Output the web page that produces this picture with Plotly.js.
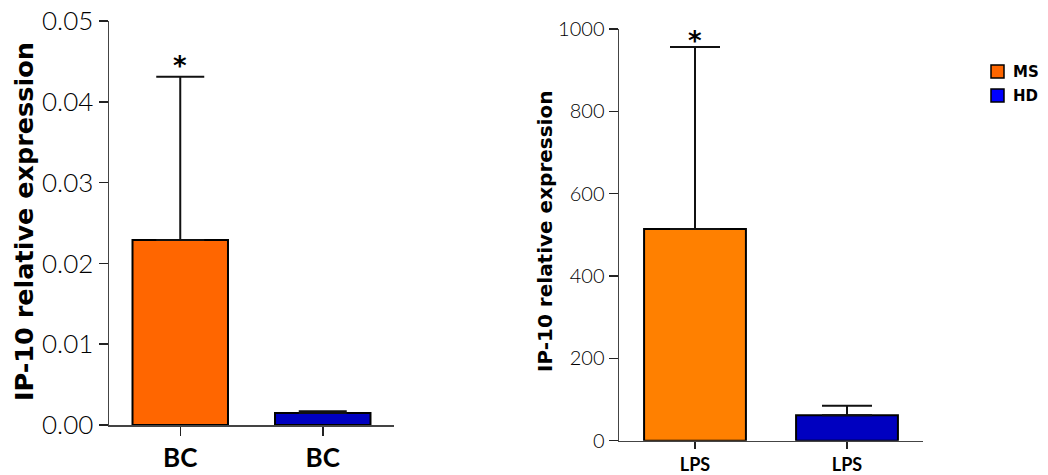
<!DOCTYPE html>
<html>
<head>
<meta charset="utf-8">
<script src="https://cdn.plot.ly/plotly-3.0.1.min.js"></script>
<style>html,body{margin:0;padding:0;background:#fff}#chart{width:1048px;height:475px}</style>
</head>
<body>
<div id="chart"></div>
<script>
// ---- data ----
const seriesNames = ['MS', 'HD'];
const leftCategories = ['BC', 'BC'];
const rightCategories = ['LPS', 'LPS'];
const leftValues = [0.0229, 0.0015];
const leftErrors = [0.0202, 0.0002];
const rightValues = [514, 62];
const rightErrors = [442, 23];
const leftTicks = [0, 0.01, 0.02, 0.03, 0.04, 0.05];
const leftTickText = ['0.00', '0.01', '0.02', '0.03', '0.04', '0.05'];
const rightTicks = [0, 200, 400, 600, 800, 1000];
const yTitle = 'IP-10 relative expression';
const starText = '*';

// ---- style ----
const leftColors = ['#FF6600', '#0000C0'];
const rightColors = ['#FF8000', '#0000C0'];
const legendColors = ['#FF6600', '#0000FF'];
const W = 1048, H = 475;
const px = v => v / W;
const py = v => (H - v) / H;

const traces = [];
function addBars(values, errors, colors, xa, ya, capw) {
  values.forEach((v, i) => {
    traces.push({
      type: 'bar', x: [i], y: [v], xaxis: xa, yaxis: ya, width: 0.67,
      name: seriesNames[i], showlegend: false,
      marker: {color: colors[i], line: {color: '#000', width: 2}},
      error_y: {type: 'data', symmetric: false, array: [errors[i]], arrayminus: [0],
                color: '#111', thickness: 2, width: capw},
      hoverinfo: 'y'
    });
  });
}
addBars(leftValues, leftErrors, leftColors, 'x', 'y', 24);
addBars(rightValues, rightErrors, rightColors, 'x2', 'y2', 25);

const axisLine = {showline: true, linecolor: '#444', linewidth: 1.5, showgrid: false, zeroline: false,
                  ticks: 'outside', tickcolor: '#222', tickwidth: 1.5};

const layout = {
  width: W, height: H,
  margin: {l: 0, r: 0, t: 0, b: 0},
  paper_bgcolor: '#fff', plot_bgcolor: '#fff',
  showlegend: false,
  bargap: 0,
  xaxis: Object.assign({}, axisLine, {
    domain: [px(109), px(394)], range: [-0.5, 1.5], anchor: 'y',
    tickvals: [0, 1], ticktext: leftCategories, ticklen: 9,
    tickfont: {family: 'Lato', size: 26, weight: 'bold', color: '#000'}
  }),
  yaxis: Object.assign({}, axisLine, {
    domain: [py(425), py(21)], range: [0, 0.05], anchor: 'x',
    tickvals: leftTicks, ticktext: leftTickText, ticklen: 9,
    tickfont: {family: 'Lato', size: 26, weight: 300, color: '#000'}
  }),
  xaxis2: Object.assign({}, axisLine, {
    domain: [px(619), px(923)], range: [-0.5, 1.5], anchor: 'y2',
    tickvals: [0, 1], ticktext: rightCategories, ticklen: 7,
    tickfont: {family: 'Lato', size: 18, weight: 'bold', color: '#000'}
  }),
  yaxis2: Object.assign({}, axisLine, {
    domain: [py(440.7), py(29)], range: [0, 1000], anchor: 'x2',
    tickvals: rightTicks, ticklen: 9,
    tickfont: {family: 'Lato', size: 20, weight: 300, color: '#000'}
  }),
  annotations: [
    {xref: 'paper', yref: 'paper', x: px(24), y: py(222), text: yTitle, textangle: -90,
     showarrow: false, xanchor: 'center', yanchor: 'middle',
     font: {family: 'DejaVu Sans', size: 25.5, weight: 'bold', color: '#000'}},
    {xref: 'paper', yref: 'paper', x: px(545), y: py(232), text: yTitle, textangle: -90,
     showarrow: false, xanchor: 'center', yanchor: 'middle',
     font: {family: 'DejaVu Sans', size: 20, weight: 'bold', color: '#000'}},
    {xref: 'x', yref: 'y', x: 0, y: leftValues[0] + leftErrors[0], text: starText, showarrow: false,
     xanchor: 'center', yanchor: 'bottom', yshift: -6,
     font: {family: 'DejaVu Sans', size: 26, weight: 'bold', color: '#000'}},
    {xref: 'x2', yref: 'y2', x: 0, y: rightValues[0] + rightErrors[0], text: starText, showarrow: false,
     xanchor: 'center', yanchor: 'bottom', yshift: -11,
     font: {family: 'DejaVu Sans', size: 26, weight: 'bold', color: '#000'}},
    {xref: 'paper', yref: 'paper', x: px(1011), y: py(71.5), text: seriesNames[0], showarrow: false,
     xanchor: 'left', yanchor: 'middle',
     font: {family: 'DejaVu Sans', size: 15, weight: 'bold', color: '#000'}},
    {xref: 'paper', yref: 'paper', x: px(1011), y: py(95.5), text: seriesNames[1], showarrow: false,
     xanchor: 'left', yanchor: 'middle',
     font: {family: 'DejaVu Sans', size: 15, weight: 'bold', color: '#000'}}
  ],
  shapes: [
    {type: 'rect', xref: 'paper', yref: 'paper', x0: px(991), x1: px(1004), y0: py(78), y1: py(65),
     fillcolor: legendColors[0], line: {color: '#000', width: 1.5}},
    {type: 'rect', xref: 'paper', yref: 'paper', x0: px(991), x1: px(1004), y0: py(102), y1: py(89),
     fillcolor: legendColors[1], line: {color: '#000', width: 1.5}}
  ]
};

Plotly.newPlot('chart', traces, layout, {displayModeBar: false, staticPlot: true});
</script>
</body>
</html>
